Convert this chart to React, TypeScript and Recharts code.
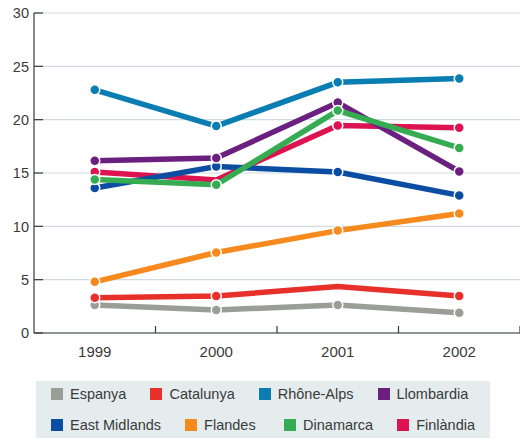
import React from "react";
import { LineChart, Line, XAxis, YAxis, CartesianGrid } from "recharts";

// Years on the category axis
const years = ["1999", "2000", "2001", "2002"];

// Series values per region, one entry per year
const espanya = [2.63, 2.16, 2.63, 1.9];
const catalunya = [3.3, 3.47, 4.35, 3.47];
const rhoneAlps = [22.8, 19.4, 23.5, 23.85];
const llombardia = [16.15, 16.4, 21.6, 15.15];
const eastMidlands = [13.6, 15.6, 15.1, 12.9];
const flandes = [4.8, 7.55, 9.6, 11.2];
const dinamarca = [14.4, 13.9, 20.85, 17.35];
const finlandia = [15.1, 14.35, 19.45, 19.25];

const yTicks = [0, 5, 10, 15, 20, 25, 30];

// Points drawn without a marker (series key -> years)
const unmarked: Record<string, string[]> = {
  catalunya: ["2001"],
  finlandia: ["2000"],
};

const series = [
  { key: "espanya", name: "Espanya", values: espanya, color: "#9b9e96" },
  { key: "catalunya", name: "Catalunya", values: catalunya, color: "#e8302b" },
  { key: "rhone", name: "Rhône-Alps", values: rhoneAlps, color: "#0a7db3" },
  { key: "llombardia", name: "Llombardia", values: llombardia, color: "#6b207f" },
  { key: "east", name: "East Midlands", values: eastMidlands, color: "#0a4da2" },
  { key: "flandes", name: "Flandes", values: flandes, color: "#f68a1f" },
  { key: "dinamarca", name: "Dinamarca", values: dinamarca, color: "#35ac52" },
  { key: "finlandia", name: "Finlàndia", values: finlandia, color: "#dc1350" },
];

// Order of series drawn on the canvas (later ones on top)
const drawOrder = ["espanya", "catalunya", "flandes", "finlandia", "east", "rhone", "llombardia", "dinamarca"];

const data = years.map((year, i) => {
  const row: Record<string, string | number> = { year };
  series.forEach((s) => {
    row[s.key] = s.values[i];
  });
  return row;
});

const FONT = '"Liberation Sans", Arial, Helvetica, sans-serif';
const TEXT = "#3a3a3a";
const AXIS = "#3a3a3a";

const X_TICK_GAP = 13;
const Y_TICK_GAP = 5;

// X tick: year label under the band centre, small upward mark at the band edge
const XTick = (props: any) => {
  const { x, y, payload } = props;
  const half = payload.offset || 0;
  const axisY = y - X_TICK_GAP;
  return (
    <g>
      <line x1={x + half} x2={x + half} y1={axisY} y2={axisY - 7} stroke={AXIS} strokeWidth={1.2} />
      <text x={x} y={y} dy="0.75em" textAnchor="middle" fill={TEXT} fontSize={15} fontFamily={FONT}>
        {payload.value}
      </text>
    </g>
  );
};

// Y tick: value label to the left, short inward mark from the axis
const YTick = (props: any) => {
  const { x, y, payload } = props;
  const axisX = x + Y_TICK_GAP;
  return (
    <g>
      <line x1={axisX} x2={axisX + 9} y1={y} y2={y} stroke={AXIS} strokeWidth={1.2} />
      <text x={x} y={y} dy="0.36em" textAnchor="end" fill={TEXT} fontSize={14.5} fontFamily={FONT}>
        {payload.value}
      </text>
    </g>
  );
};

const makeDot = (key: string, color: string) => (props: any) => {
  const { cx, cy, payload, index } = props;
  if (cx == null || cy == null) return <g key={`${key}-${index}`} />;
  if ((unmarked[key] || []).includes(payload.year)) return <g key={`${key}-${index}`} />;
  return <circle key={`${key}-${index}`} cx={cx} cy={cy} r={5} fill={color} stroke="#fff" strokeWidth={1.5} />;
};

const LegendBox = () => (
  <div
    style={{
      position: "absolute",
      left: 36,
      top: 381,
      width: 454,
      height: 57,
      background: "#e5ecee",
      boxSizing: "border-box",
      padding: "0 0 0 15px",
      display: "flex",
      flexDirection: "column",
      gap: 5,
      fontFamily: FONT,
      fontSize: 14.5,
      color: TEXT,
    }}
  >
    {[series.slice(0, 4), series.slice(4)].map((row, r) => (
      <div key={r} style={{ display: "flex", gap: 24, height: 26, alignItems: "center" }}>
        {row.map((s) => (
          <div key={s.key} style={{ display: "flex", alignItems: "center", minWidth: 75 }}>
            <span style={{ width: 12, height: 12, background: s.color, display: "inline-block", marginRight: 7 }} />
            <span style={{ whiteSpace: "nowrap" }}>{s.name}</span>
          </div>
        ))}
      </div>
    ))}
  </div>
);

export default function App() {
  const ordered = drawOrder.map((k) => series.find((s) => s.key === k)!);
  return (
    <div style={{ position: "absolute", left: 0, top: 0, width: 520, height: 439, background: "#fff" }}>
      <LineChart width={520} height={370} data={data} margin={{ top: 13, right: 0, bottom: 0, left: 0 }}>
        <CartesianGrid vertical={false} stroke="#cfdbe0" strokeWidth={1.2} />
        <XAxis
          dataKey="year"
          scale="band"
          height={37}
          axisLine={{ stroke: AXIS, strokeWidth: 1.2 }}
          tickLine={false}
          tickSize={0}
          tickMargin={X_TICK_GAP}
          tick={<XTick />}
          interval={0}
        />
        <YAxis
          width={34}
          domain={[0, 30]}
          ticks={yTicks}
          axisLine={{ stroke: AXIS, strokeWidth: 1.2 }}
          tickLine={false}
          tickSize={0}
          tickMargin={Y_TICK_GAP}
          tick={<YTick />}
          interval={0}
        />
        {ordered.map((s) => (
          <Line
            key={s.key}
            dataKey={s.key}
            name={s.name}
            stroke={s.color}
            strokeWidth={5.5}
            dot={makeDot(s.key, s.color)}
            activeDot={false}
            isAnimationActive={false}
          />
        ))}
      </LineChart>
      <LegendBox />
    </div>
  );
}
